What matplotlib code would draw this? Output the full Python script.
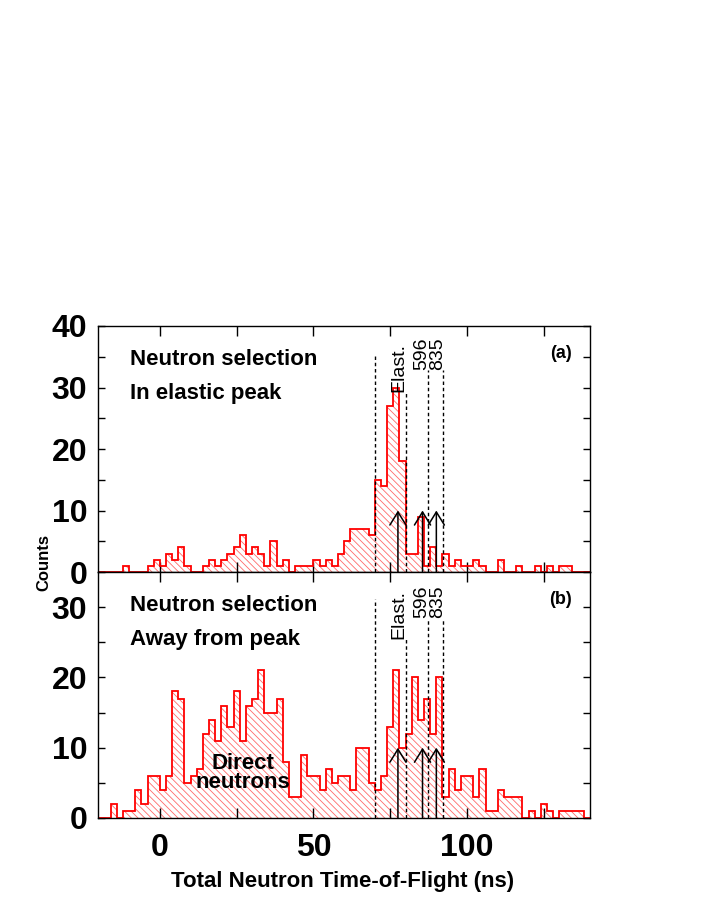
import numpy as np
import matplotlib
matplotlib.use("Agg")
from matplotlib import pyplot as plt
from matplotlib.ticker import MultipleLocator

"""
Neutron time-of-flight spectra, two neutron selections.
"""

plt.rcParams["font.family"] = ["Liberation Sans", "DejaVu Sans"]
plt.rcParams["font.weight"] = "bold"
plt.rcParams["hatch.linewidth"] = 0.6
plt.rcParams["hatch.color"] = "#ff6a6a"

# 2 ns bins from -20 to 140 ns
bin_edges = np.arange(-20, 141, 2)

counts_elastic = [0, 0, 0, 0, 1, 0, 0, 0, 1, 2,
                  1, 3, 2, 4, 1, 0, 0, 1, 2, 1,
                  2, 3, 4, 6, 3, 4, 3, 1, 5, 1,
                  2, 0, 1, 1, 1, 2, 1, 2, 1, 3,
                  5, 7, 7, 7, 6, 15, 14, 27, 30, 18,
                  3, 3, 9, 1, 4, 1, 3, 1, 2, 1,
                  1, 2, 1, 0, 0, 2, 0, 0, 1, 0,
                  0, 1, 0, 1, 0, 1, 1, 0, 0, 0]

counts_away = [0, 0, 2, 0, 1, 1, 4, 2, 6, 6,
               4, 6, 18, 17, 5, 6, 7, 12, 14, 11,
               16, 13, 18, 11, 16, 17, 21, 15, 15, 17,
               8, 3, 3, 9, 6, 6, 4, 7, 5, 6,
               6, 4, 10, 10, 5, 4, 6, 13, 21, 10,
               12, 20, 14, 17, 12, 20, 3, 7, 4, 6,
               6, 3, 7, 1, 1, 4, 3, 3, 3, 0,
               1, 0, 2, 1, 0, 1, 1, 1, 1, 0]

# time cuts (dashed) and expected peak positions (arrows)
cut_x = [70, 80, 87.3, 92.2]
cut_top_a = [35.5, 29.3, 32.8, 32.8]
cut_top_b = [31.1, 25.5, 28.4, 28.4]
arrow_x = [77.5, 85.5, 90.0]
arrow_top = 10
peak_labels = ["Elast.", "596", "835"]
peak_label_x = [77.7, 85.3, 90.4]
peak_label_y_a = [29.3, 32.8, 32.8]
peak_label_y_b = [25.5, 28.4, 28.4]


def draw_panel(ax, counts, ymax, cut_top, label_y, line1, line2, tag):
    ax.stairs(counts, bin_edges, fill=True, facecolor="none", edgecolor="#ff6a6a",
              hatch="\\\\\\\\\\", linewidth=0, zorder=1)
    ax.stairs(counts, bin_edges, color="red", linewidth=1.3, zorder=2)
    for x, top in zip(cut_x, cut_top):
        ax.plot([x, x], [0, top], color="black", lw=1.0, ls=(0, (2.5, 2)), zorder=3)
    for x in arrow_x:
        ax.annotate("", xy=(x, arrow_top), xytext=(x, 0),
                    arrowprops=dict(arrowstyle="->,head_length=0.47,head_width=0.29",
                                    mutation_scale=20, color="black", lw=1.1,
                                    shrinkA=0, shrinkB=0), zorder=4)
    for text, x, y in zip(peak_labels, peak_label_x, label_y):
        ax.text(x, y, text, rotation=90, ha="center", va="bottom", fontsize=14,
                fontweight="normal", zorder=5)
    ax.text(0.065, 0.862, line1, transform=ax.transAxes, fontsize=16, va="center")
    ax.text(0.065, 0.727, line2, transform=ax.transAxes, fontsize=16, va="center")
    ax.text(0.963, 0.89, tag, transform=ax.transAxes, fontsize=13, ha="right", va="center")

    ax.set_xlim(-20, 140)
    ax.set_ylim(0, ymax)
    ax.xaxis.set_major_locator(MultipleLocator(50))
    ax.xaxis.set_minor_locator(MultipleLocator(25))
    ax.yaxis.set_major_locator(MultipleLocator(10))
    ax.yaxis.set_minor_locator(MultipleLocator(5))
    ax.tick_params(which="both", direction="in", top=True, right=True, width=1.0,
                   labelsize=23)
    ax.tick_params(axis="x", which="both", length=7, pad=11)
    ax.tick_params(axis="y", which="both", length=5, pad=8)
    for spine in ax.spines.values():
        spine.set_linewidth(1.0)


fig = plt.figure(figsize=(7.08, 9.17), dpi=100)
ax_a = fig.add_axes([0.1389, 0.3762, 0.6944, 0.2683])
ax_b = fig.add_axes([0.1389, 0.1080, 0.6944, 0.2682])

draw_panel(ax_a, counts_elastic, 40, cut_top_a, peak_label_y_a,
           "Neutron selection", "In elastic peak", "(a)")
draw_panel(ax_b, counts_away, 35, cut_top_b, peak_label_y_b,
           "Neutron selection", "Away from peak", "(b)")
ax_a.tick_params(labelbottom=False)

ax_b.text(27, 6.4, "Direct\nneutrons", ha="center", va="center", fontsize=16,
          linespacing=0.9, zorder=5)

fig.text(0.0621, 0.3866, "Counts", rotation=90, ha="center", va="center", fontsize=12)
fig.text(0.4845, 0.0382, "Total Neutron Time-of-Flight (ns)", ha="center", va="center",
         fontsize=16)

fig.savefig("out.png", dpi=100)
